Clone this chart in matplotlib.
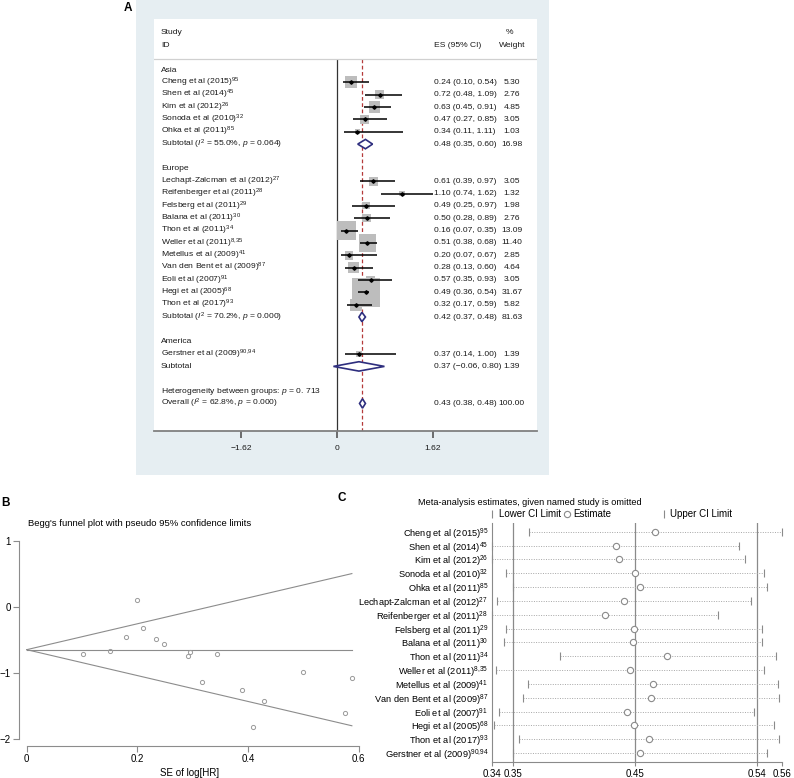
import numpy as np
import matplotlib
matplotlib.use('Agg')
import matplotlib.pyplot as plt
from matplotlib.patches import Polygon, Rectangle
from matplotlib import font_manager

plt.rcParams['font.family'] = ['Liberation Sans', 'DejaVu Sans']
plt.rcParams['mathtext.fontset'] = 'custom'
plt.rcParams['mathtext.rm'] = 'Liberation Sans'
plt.rcParams['mathtext.it'] = 'Liberation Sans:italic'

# panel A uses a condensed face if there is one
installed = {f.name for f in font_manager.fontManager.ttflist}
if 'Liberation Sans Narrow' in installed:
    font_a, size_a = 'Liberation Sans Narrow', 6.5
else:
    font_a, size_a = 'Liberation Sans', 6.1

# ---------------- data ----------------
regions = ['Asia', 'Europe', 'America']
study_names = ['Cheng et al (2015)', 'Shen et al (2014)', 'Kim et al (2012)', 'Sonoda et al (2010)',
               'Ohka et al (2011)', 'Lechapt-Zalcman et al (2012)', 'Reifenberger et al (2011)',
               'Felsberg et al (2011)', 'Balana et al (2011)', 'Thon et al (2011)', 'Weller et al (2011)',
               'Metellus et al (2009)', 'Van den Bent et al (2009)', 'Eoli et al (2007)', 'Hegi et al (2005)',
               'Thon et al (2017)', 'Gerstner et al (2009)']
study_refs = ['95', '45', '26', '32', '85', '27', '28', '29', '30', '34', '8{,}35', '41', '87', '91', '68',
              '93', '90{,}94']
study_region = [0, 0, 0, 0, 0, 1, 1, 1, 1, 1, 1, 1, 1, 1, 1, 1, 2]

# forest plot (A)
es_a = [0.24, 0.72, 0.63, 0.47, 0.34, 0.61, 1.10, 0.49, 0.50, 0.16, 0.51, 0.20, 0.28, 0.57, 0.49, 0.32, 0.37]
lo_a = [0.10, 0.48, 0.45, 0.27, 0.11, 0.39, 0.74, 0.25, 0.28, 0.07, 0.38, 0.07, 0.13, 0.35, 0.36, 0.17, 0.14]
hi_a = [0.54, 1.09, 0.91, 0.85, 1.11, 0.97, 1.62, 0.97, 0.89, 0.35, 0.68, 0.67, 0.60, 0.93, 0.54, 0.59, 1.00]
weight_a = [5.30, 2.76, 4.85, 3.05, 1.03, 3.05, 1.32, 1.98, 2.76, 13.09, 11.40, 2.85, 4.64, 3.05, 31.67, 5.82, 1.39]
sub_es = [0.48, 0.42, 0.37]
sub_lo = [0.35, 0.37, -0.06]
sub_hi = [0.60, 0.48, 0.80]
sub_w = [16.98, 81.63, 1.39]
sub_het = [' ($I^2$ = 55.0%, $p$ = 0.064)', ' ($I^2$ = 70.2%, $p$ = 0.000)', '']
overall_es, overall_lo, overall_hi, overall_w = 0.43, 0.38, 0.48, 100.00
overall_het = 'Overall ($I^2$ = 62.8%, $p$ = 0.000)'
between_het = 'Heterogeneity between groups: $p$ = 0. 713'
ticks_a = [-1.62, 0, 1.62]
ticklabels_a = ['\u22121.62', '0', '1.62']

# Begg's funnel plot (B)
se_b = [0.102, 0.150, 0.180, 0.200, 0.210, 0.233, 0.248, 0.292, 0.295, 0.317, 0.345, 0.389,
        0.410, 0.429, 0.500, 0.575, 0.588]
loghr_b = [-0.707, -0.667, -0.46, 0.106, -0.323, -0.49, -0.556, -0.747, -0.68, -1.13, -0.707,
           -1.26, -1.82, -1.42, -0.985, -1.60, -1.07]
funnel_center = -0.647
funnel_se = [0, 0.588]

# influence analysis (C)
lower_c = [0.3648, 0.3366, 0.3366, 0.3471, 0.3528, 0.3399, 0.3366, 0.3471, 0.3458, 0.3887, 0.3394,
           0.3638, 0.3605, 0.3419, 0.3379, 0.3574, 0.3523]
est_c = [0.4619, 0.4316, 0.4339, 0.4465, 0.4503, 0.4378, 0.4234, 0.4457, 0.4447, 0.4714, 0.4426,
         0.4601, 0.4588, 0.4406, 0.4457, 0.4575, 0.4503]
upper_c = [0.5600, 0.5268, 0.5312, 0.5459, 0.5480, 0.5359, 0.5107, 0.5441, 0.5441, 0.5549, 0.5459,
           0.5569, 0.5577, 0.5384, 0.5536, 0.5577, 0.5480]
combined_c = [0.3525, 0.4465, 0.5405]
tick_labels_c = ['0.34', '0.35', '0.45', '0.54', '0.56']

# ---------------- figure ----------------
W, H = 794, 778
fig = plt.figure(figsize=(W / 100, H / 100), dpi=100)


def px_axes(x0, y0, x1, y1):
    return fig.add_axes([x0 / W, 1 - y1 / H, (x1 - x0) / W, (y1 - y0) / H])


def ftext(x, y, s, **kw):
    fig.text(x / W, 1 - y / H, s, **kw)


def fmt_ci(e, l, h):
    return f'{e:.2f} ({l:.2f}, {h:.2f})'.replace('-', '\u2212')


# ---- panel A ----
fig.add_artist(Rectangle((136 / W, 1 - 475 / H), (549 - 136) / W, 475 / H, transform=fig.transFigure,
                         facecolor='#e6eef2', edgecolor='none', zorder=-5))
ftext(128, 8, 'A', ha='center', va='center', fontsize=8.5, weight='bold')

ax_a = px_axes(154, 19, 537, 431)
ax_a.set_xlim(-3.086, 3.373)
ax_a.set_ylim(29.23, -4.13)
label_x, es_x, w_x = -2.968, 1.63, 2.95
tkw = dict(va='center', fontsize=size_a, family=[font_a, 'DejaVu Sans'], color='#1a1a1a')
wkw = dict(tkw, ha='center')

ax_a.text(label_x, -3.0, 'Study', **tkw)
ax_a.text(label_x, -1.95, 'ID', **tkw)
ax_a.text(es_x, -1.95, 'ES (95% CI)', **tkw)
ax_a.text(w_x - 0.1, -3.0, '%', **tkw)
ax_a.text(w_x, -1.95, 'Weight', **wkw)
sep_row = -0.89
ax_a.axhline(sep_row, color='#d0d0d0', lw=0.9)

row = 0
study_rows = []
sub_rows = []
for g, region in enumerate(regions):
    ax_a.text(label_x, row, region, **tkw)
    row += 1
    for i in range(len(study_names)):
        if study_region[i] != g:
            continue
        study_rows.append(row)
        ax_a.text(label_x, row, f'{study_names[i]}$^{{{study_refs[i]}}}$', **tkw)
        ax_a.text(es_x, row, fmt_ci(es_a[i], lo_a[i], hi_a[i]), **tkw)
        ax_a.text(w_x, row, f'{weight_a[i]:.2f}', **wkw)
        row += 1
    sub_rows.append(row)
    ax_a.text(label_x, row, 'Subtotal' + sub_het[g], **tkw)
    ax_a.text(es_x, row, fmt_ci(sub_es[g], sub_lo[g], sub_hi[g]), **tkw)
    ax_a.text(w_x, row, f'{sub_w[g]:.2f}', **wkw)
    row += 2
het_row, overall_row = row, row + 1
ax_a.text(label_x, het_row, between_het, **tkw)
ax_a.text(label_x, overall_row, overall_het, **tkw)
ax_a.text(es_x, overall_row, fmt_ci(overall_es, overall_lo, overall_hi), **tkw)
ax_a.text(w_x, overall_row, f'{overall_w:.2f}', **wkw)

bottom = ax_a.get_ylim()[0]
ax_a.vlines(0, sep_row, bottom, color='#333333', lw=0.9, zorder=1)
ax_a.vlines(overall_es, sep_row, bottom, color='#b53a3a', lw=0.9, linestyles=(0, (3, 2)), zorder=1)

ax_a.scatter(es_a, study_rows, s=np.array(weight_a) * 13.5, marker='s', color='#bdbdbd', lw=0, zorder=2)
ax_a.hlines(study_rows, lo_a, hi_a, color='black', lw=1.1, zorder=3)
ax_a.plot(es_a, study_rows, 'D', ms=1.8, color='black', zorder=4)


def diamond(ax, e, l, h, r, half=0.38):
    ax.add_patch(Polygon([(l, r), (e, r - half), (h, r), (e, r + half)], closed=True,
                         facecolor='white', edgecolor='#2e2e7e', lw=1.2, zorder=5))


for g in range(len(regions)):
    diamond(ax_a, sub_es[g], sub_lo[g], sub_hi[g], sub_rows[g])
diamond(ax_a, overall_es, overall_lo, overall_hi, overall_row)

for s in ['top', 'right', 'left']:
    ax_a.spines[s].set_visible(False)
ax_a.spines['bottom'].set_color('#808080')
ax_a.spines['bottom'].set_linewidth(1.3)
ax_a.set_yticks([])
ax_a.set_xticks(ticks_a, ticklabels_a)
ax_a.tick_params(axis='x', direction='out', length=5, width=1.2, color='#555555',
                 labelsize=size_a, pad=5, labelcolor='#1a1a1a')
for lab in ax_a.get_xticklabels():
    lab.set_family([font_a, 'DejaVu Sans'])

# ---- panel B ----
ftext(6, 503, 'B', ha='center', va='center', fontsize=8.5, weight='bold')
ftext(28, 523, "Begg's funnel plot with pseudo 95% confidence limits", ha='left', va='center', fontsize=6.8)
ax_b = px_axes(19, 535, 360, 746)
ax_b.set_xlim(-0.0139, 0.6027)
ax_b.set_ylim(-2.106, 1.09)
se_line = np.array(funnel_se)
ax_b.plot(se_line, [funnel_center] * 2, color='#8c8c8c', lw=0.8)
ax_b.plot(se_line, funnel_center + 1.96 * se_line, color='#8c8c8c', lw=0.8)
ax_b.plot(se_line, funnel_center - 1.96 * se_line, color='#8c8c8c', lw=0.8)
ax_b.plot(se_b, loghr_b, 'o', ms=3, mfc='none', mec='#9a9a9a', mew=0.7)
for s in ['top', 'right']:
    ax_b.spines[s].set_visible(False)
for s in ['left', 'bottom']:
    ax_b.spines[s].set_color('#8c8c8c')
    ax_b.spines[s].set_linewidth(0.8)
ax_b.spines['left'].set_bounds(-2, 1)
ax_b.spines['bottom'].set_bounds(0, 0.6)
ax_b.set_xticks([0, 0.2, 0.4, 0.6], ['0', '0.2', '0.4', '0.6'])
ax_b.set_yticks([-2, -1, 0, 1])
ax_b.tick_params(direction='out', length=4, width=0.8, color='#8c8c8c', labelsize=7, pad=2)
ax_b.set_xlabel('SE of log[HR]', fontsize=7, labelpad=3)
ax_b.patch.set_alpha(0)

# ---- panel C ----
ftext(342, 498, 'C', ha='center', va='center', fontsize=8.5, weight='bold')
ftext(418, 502, 'Meta-analysis estimates, given named study is omitted', ha='left', va='center',
      fontsize=6.6)
ax_c = px_axes(492.4, 522.7, 782.3, 762)
rows_c = np.arange(len(study_names))
ax_c.set_xlim(min(lower_c), max(upper_c))
ax_c.set_ylim(len(study_names) - 0.35, -0.65)
for v in combined_c:
    ax_c.axvline(v, color='#8a8a8a', lw=0.9, zorder=1)
ax_c.hlines(rows_c, lower_c, upper_c, colors='#a6a6a6', lw=0.7, linestyles=(0, (1, 1.5)), zorder=2)
h_lo, = ax_c.plot(lower_c, rows_c, '|', ms=6, mew=0.8, color='#8a8a8a', zorder=3, clip_on=False)
h_est, = ax_c.plot(est_c, rows_c, 'o', ms=4.5, mfc='white', mec='#8a8a8a', mew=0.8, zorder=4)
h_up, = ax_c.plot(upper_c, rows_c, '|', ms=6, mew=0.8, color='#8a8a8a', zorder=3, clip_on=False)
leg_kw = dict(loc='center left', frameon=False, fontsize=7, handlelength=0.6, handletextpad=0.35,
              borderpad=0, borderaxespad=0)
leg1 = ax_c.legend([h_lo, h_est], ['Lower CI Limit', 'Estimate'], ncol=2, columnspacing=0.3,
                   bbox_to_anchor=(-0.01, 1.036), **leg_kw)
ax_c.add_artist(leg1)
ax_c.legend([h_up], ['Upper CI Limit'], bbox_to_anchor=(0.582, 1.036), **leg_kw)
ax_c.set_yticks(rows_c, [f'{n}$^{{{r}}}$' for n, r in zip(study_names, study_refs)])
ax_c.tick_params(axis='y', length=0, pad=3, labelsize=6.7)
xt = [min(lower_c)] + combined_c + [max(upper_c)]
ax_c.set_xticks(xt, tick_labels_c)
ax_c.tick_params(axis='x', direction='out', length=3, width=0.8, color='#8a8a8a', labelsize=7, pad=2)
for s in ['top', 'right']:
    ax_c.spines[s].set_visible(False)
for s in ['left', 'bottom']:
    ax_c.spines[s].set_color('#8a8a8a')
    ax_c.spines[s].set_linewidth(0.8)
ax_c.patch.set_alpha(0)

fig.savefig('out.png', dpi=100)
